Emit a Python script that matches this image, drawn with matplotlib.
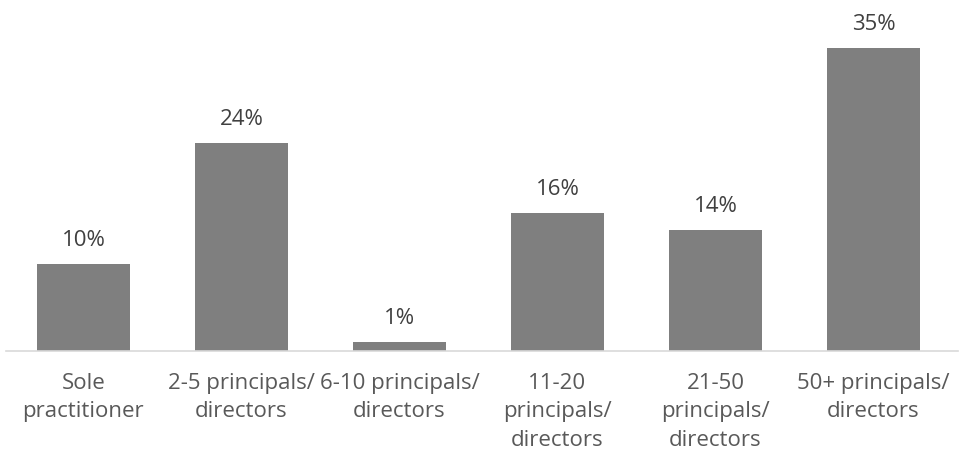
import matplotlib.pyplot as plt

# firm size categories and share of respondents (%)
categories = ['Sole\npractitioner', '2-5 principals/\ndirectors', '6-10 principals/\ndirectors',
              '11-20\nprincipals/\ndirectors', '21-50\nprincipals/\ndirectors', '50+ principals/\ndirectors']
shares = [10, 24, 1, 16, 14, 35]

plt.rcParams['font.family'] = ['Open Sans', 'DejaVu Sans']

fig = plt.figure(figsize=(9.61, 4.62), dpi=100)
ax = fig.add_axes([6 / 961, 111 / 462, 952 / 961, 341 / 462])

x = range(len(categories))
bars = ax.bar(x, shares, width=0.59, color='#7f7f7f', zorder=2)

for rect, v in zip(bars, shares):
    ax.annotate(f'{v}%', (rect.get_x() + rect.get_width() / 2, rect.get_height()),
                xytext=(0, 18), textcoords='offset pixels',
                ha='center', va='baseline', fontsize=16, color='#404040')

ax.set_xlim(-0.49, 5.535)
ax.set_ylim(0, 39.4)
ax.set_xticks(list(x))
ax.set_xticklabels(categories, fontsize=16, color='#595959', linespacing=1.45, va='top')
ax.tick_params(axis='x', length=0, pad=16)
ax.set_yticks([])
for side in ['top', 'left', 'right']:
    ax.spines[side].set_visible(False)
ax.spines['bottom'].set_color('#d9d9d9')
ax.spines['bottom'].set_linewidth(1.2)

fig.savefig('out.png', dpi=100)
